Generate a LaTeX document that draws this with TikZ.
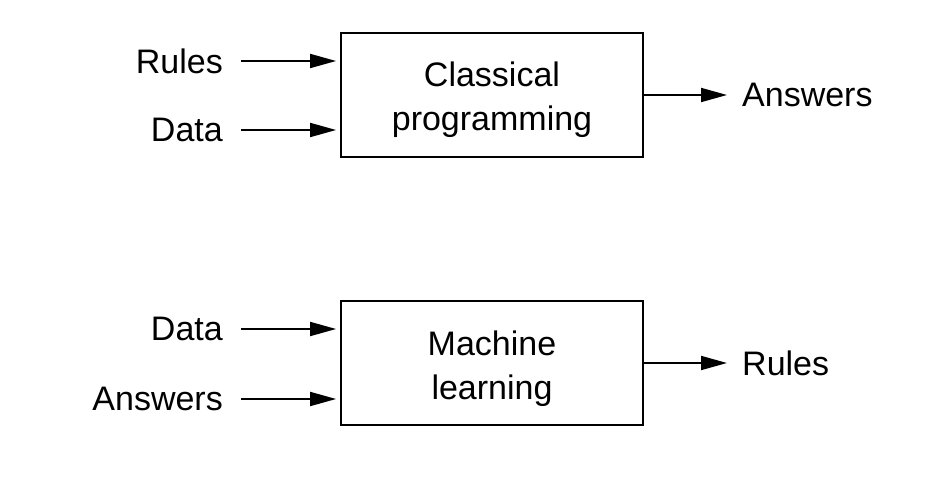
\documentclass[tikz,border=0pt]{standalone}
\usepackage{fontspec}
\setmainfont{Liberation Sans}
\usetikzlibrary{arrows.meta,calc}
\begin{document}
\begin{tikzpicture}[x=1pt,y=-1pt,
  lbl/.style={inner sep=0pt, font=\fontsize{34}{44}\selectfont},
  proc/.style={draw, line width=1.8pt, minimum width=302pt, minimum height=124pt, inner sep=0pt},
  proctext/.style={align=center, inner sep=0pt, font=\fontsize{34}{44}\selectfont},
  arr/.style={line width=1.8pt, -{Triangle[length=26pt,width=14pt]}}]
\useasboundingbox (0,0) rectangle (932,484);
% top
\node[proc] (cp) at (492,95) {};
\node[proctext] (cpt) at ($(cp.center)+(0,5)$) {Classical\\programming};
\node[lbl, anchor=east] (r1) at (223,61) {Rules};
\node[lbl, anchor=east] (d1) at (223,130) {Data};
\node[lbl, anchor=west] (a1) at (742,95) {Answers};
\draw[arr, shorten <=18pt, shorten >=4pt] (r1.east) -- (r1.east -| cp.west);
\draw[arr, shorten <=18pt, shorten >=4pt] (d1.east) -- (d1.east -| cp.west);
\draw[arr, shorten >=15pt] (cp.east) -- (a1.west);
% bottom
\node[proc] (ml) at (492,363) {};
\node[proctext] (mlt) at ($(ml.center)+(0,6)$) {Machine\\learning};
\node[lbl, anchor=east] (d2) at (223,329) {Data};
\node[lbl, anchor=east] (a2) at (223,399) {Answers};
\node[lbl, anchor=west] (r2) at (742,363) {Rules};
\draw[arr, shorten <=18pt, shorten >=4pt] (d2.east) -- (d2.east -| ml.west);
\draw[arr, shorten <=18pt, shorten >=4pt] (a2.east) -- (a2.east -| ml.west);
\draw[arr, shorten >=15pt] (ml.east) -- (r2.west);
\end{tikzpicture}
\end{document}
